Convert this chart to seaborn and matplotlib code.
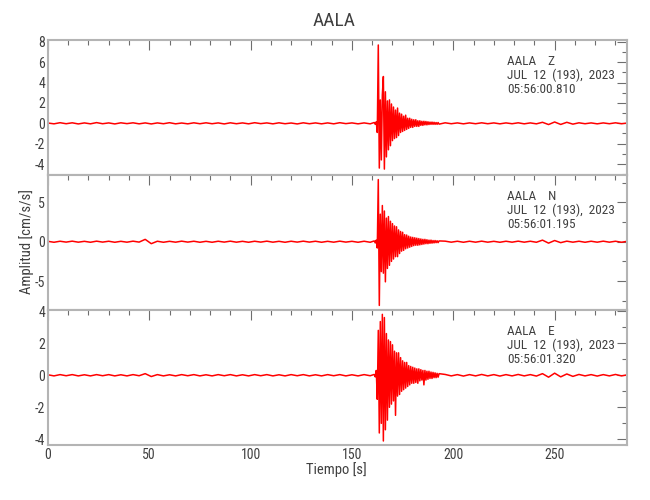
import numpy as np
import pandas as pd
import matplotlib
matplotlib.use('Agg')
import matplotlib.pyplot as plt
from matplotlib.ticker import MultipleLocator
from matplotlib import font_manager
import seaborn as sns

# texts
STATION = 'AALA'
COMPONENTS = ['Z', 'N', 'E']
DATE_LABEL = 'JUL  12  (193),  2023'
START_TIMES = ['05:56:00.810', '05:56:01.195', '05:56:01.320']

# sampling of the read-off values (s)
PRE_STEP = 3.0
EVT_START = 161.0
EVT_STEP = 0.5
POST_START = 196.0
POST_STEP = 3.0

# Z component (cm/s/s)
z_pre = [0.03, -0.05, 0.06, -0.04, 0.05, -0.06, 0.04, -0.05, 0.07, -0.04,
         0.04, -0.06, 0.05, -0.03, 0.05, -0.05, 0.04, -0.06, 0.04, -0.04,
         0.06, -0.05, 0.03, -0.05, 0.05, -0.04, 0.05, -0.04, 0.04, -0.06,
         0.05, -0.04, 0.04, -0.05, 0.06, -0.03, 0.04, -0.05, 0.05, -0.04,
         0.03, -0.06, 0.05, -0.04, 0.04, -0.05, 0.04, -0.05, 0.06, -0.03,
         0.04, -0.05, 0.04, -0.05]
z_evt = [0.08, -0.1, 0.15, -0.9, 7.7, -4.4, 2.3, -3.6, 2.8, 4.6,
         -4.5, 3.1, -3.3, 2.2, -2.6, 2.3, -2.2, 1.9, -1.7, 1.6,
         -1.5, 1.3, -1.4, 1.5, -1.2, 1.0, -0.9, 0.9, -0.8, 0.7,
         -0.7, 0.8, -0.6, 0.5, -0.5, 0.5, -0.4, 0.4, -0.4, 0.35,
         -0.3, 0.35, -0.3, 0.25, -0.3, 0.25, -0.2, 0.2, -0.2, 0.2,
         -0.15, 0.18, -0.15, 0.15, -0.12, 0.12, -0.1, 0.12, -0.1, 0.1,
         -0.1, 0.08, -0.1, 0.08, -0.08]
z_post = [0.05, -0.04, 0.04, -0.05, 0.04, -0.04, 0.05, -0.04, 0.04, -0.05,
          0.04, -0.04, 0.05, -0.05, 0.04, -0.05, 0.1, -0.12, 0.13, -0.11,
          0.1, -0.08, 0.05, -0.04, 0.04, -0.05, 0.04, -0.04, 0.05, -0.04,
          0.03]

# N component
n_pre = [0.05, -0.07, 0.06, -0.05, 0.07, -0.06, 0.05, -0.07, 0.07, -0.05,
         0.06, -0.07, 0.05, -0.06, 0.07, -0.05, 0.3, -0.25, 0.06, -0.07,
         0.05, -0.06, 0.07, -0.05, 0.06, -0.07, 0.05, -0.07, 0.06, -0.05,
         0.07, -0.06, 0.05, -0.07, 0.06, -0.05, 0.07, -0.06, 0.05, -0.07,
         0.06, -0.05, 0.07, -0.05, 0.06, -0.07, 0.05, -0.06, 0.07, -0.05,
         0.05, -0.07, 0.06, -0.07]
n_evt = [0.1, -0.15, 0.2, -0.8, 7.9, -8.1, 3.5, -3.8, 4.6, -4.0,
         3.9, -5.1, 3.0, -3.4, 3.2, -3.0, 2.6, -2.5, 2.3, -2.2,
         2.0, -1.9, 1.9, -1.9, 1.5, -1.5, 1.3, -1.2, 1.2, -1.1,
         0.9, -0.9, 0.85, -0.8, 0.7, -0.7, 0.6, -0.6, 0.55, -0.5,
         0.5, -0.45, 0.45, -0.45, 0.4, -0.4, 0.35, -0.35, 0.3, -0.3,
         0.3, -0.25, 0.25, -0.25, 0.2, -0.2, 0.2, -0.18, 0.15, -0.15,
         0.15, -0.12, 0.12, -0.12, 0.1]
n_post = [0.07, -0.06, 0.06, -0.07, 0.06, -0.06, 0.07, -0.06, 0.05, -0.07,
          0.06, -0.06, 0.07, -0.06, 0.06, -0.07, 0.2, -0.18, 0.15, -0.12,
          0.07, -0.06, 0.06, -0.07, 0.06, -0.06, 0.07, -0.06, 0.06, -0.07,
          0.06]

# E component
e_pre = [0.03, -0.04, 0.04, -0.03, 0.04, -0.04, 0.03, -0.04, 0.04, -0.03,
         0.04, -0.04, 0.03, -0.04, 0.04, -0.03, 0.1, -0.08, 0.04, -0.04,
         0.03, -0.04, 0.04, -0.03, 0.04, -0.04, 0.03, -0.04, 0.04, -0.03,
         0.04, -0.04, 0.03, -0.04, 0.04, -0.03, 0.04, -0.04, 0.03, -0.04,
         0.04, -0.03, 0.04, -0.04, 0.03, -0.04, 0.04, -0.03, 0.04, -0.04,
         0.03, -0.04, 0.04, -0.03]
e_evt = [0.05, -0.1, 0.3, -1.5, 2.8, -3.6, 3.35, -3.0, 3.8, -4.1,
         3.6, -3.4, 2.6, -2.8, 2.2, -2.0, 2.1, -1.8, 1.9, -1.6,
         1.5, -2.5, 1.4, -1.3, 1.4, -1.2, 1.1, -1.0, 0.9, -0.9,
         0.8, -0.8, 0.8, -0.7, 0.6, -0.6, 0.55, -0.5, 0.5, -0.5,
         0.45, -0.45, 0.4, -0.5, 0.4, -0.35, 0.35, -0.3, 0.3, -0.6,
         0.3, -0.3, 0.25, -0.25, 0.25, -0.2, 0.2, -0.2, 0.18, -0.15,
         0.15, -0.15, 0.12, -0.12, 0.1]
e_post = [0.05, -0.04, 0.04, -0.05, 0.04, -0.04, 0.05, -0.04, 0.04, -0.05,
          0.04, -0.04, 0.05, -0.04, 0.04, -0.05, 0.1, -0.12, 0.13, -0.1,
          0.08, -0.07, 0.05, -0.04, 0.04, -0.05, 0.04, -0.04, 0.05, -0.04,
          0.03]

Y_LIMITS = [(-5.08, 8.19), (-8.68, 8.48), (-4.35, 4.07)]
Y_MAJOR = [2, 5, 2]
Y_MINOR = [1, 2.5, 1]
X_MAX = 285.7


def build_trace(pre, evt, post):
    t = np.concatenate([PRE_STEP * np.arange(len(pre)),
                        EVT_START + EVT_STEP * np.arange(len(evt)),
                        POST_START + POST_STEP * np.arange(len(post))])
    return pd.DataFrame({'Tiempo': t, 'Amplitud': np.concatenate([pre, evt, post])})


traces = [build_trace(z_pre, z_evt, z_post),
          build_trace(n_pre, n_evt, n_post),
          build_trace(e_pre, e_evt, e_post)]

sns.set_style('white')
names = {f.name for f in font_manager.fontManager.ttflist}
narrow = [n for n in ['Liberation Sans Narrow', 'Roboto Condensed', 'Open Sans Condensed']
          if n in names]
plt.rcParams['font.family'] = narrow + ['DejaVu Sans']
plt.rcParams['font.stretch'] = 'condensed'
plt.rcParams['axes.unicode_minus'] = False

fig = plt.figure(figsize=(6.5, 5), dpi=100)
W, H = 650.0, 500.0
left, right = 47.9, 627.0
top0, ph = 40.0, 135.0

frame_col = '#b4b4b4'
text_col = '#404040'

for i, df in enumerate(traces):
    top = top0 + i * ph
    ax = fig.add_axes([left / W, 1 - (top + ph) / H, (right - left) / W, ph / H])
    sns.lineplot(data=df, x='Tiempo', y='Amplitud', ax=ax, color='#ff0000',
                 linewidth=1.1, estimator=None, sort=False)
    ax.set_xlim(0, X_MAX)
    ax.set_ylim(*Y_LIMITS[i])
    ax.set_xlabel('')
    ax.set_ylabel('')
    ax.xaxis.set_major_locator(MultipleLocator(50))
    ax.xaxis.set_minor_locator(MultipleLocator(10))
    ax.yaxis.set_major_locator(MultipleLocator(Y_MAJOR[i]))
    ax.yaxis.set_minor_locator(MultipleLocator(Y_MINOR[i]))
    ax.tick_params(which='both', direction='in', top=True, right=True,
                   color='#6e6e6e', labelcolor=text_col, labelsize=10, width=0.8)
    ax.tick_params(which='major', length=7, pad=2)
    ax.tick_params(which='minor', length=3.5)
    if i < 2:
        ax.tick_params(axis='x', labelbottom=False)
    for s in ax.spines.values():
        s.set_color(frame_col)
        s.set_linewidth(1.5)
    # station / date / start time block, one text per line
    lines = [f'{STATION}    {COMPONENTS[i]}', DATE_LABEL, START_TIMES[i]]
    for line, off in zip(lines, [21.5, 35.5, 49.5]):
        ax.text(0.793, 1 - off / ph, line, transform=ax.transAxes,
                ha='left', va='center', fontsize=9.5, color=text_col)

fig.text(0.514, 1 - 21 / H, STATION, ha='center', va='center', fontsize=14, color=text_col)
fig.text(27 / W, 1 - 241 / H, 'Amplitud [cm/s/s]', ha='center', va='center',
         rotation=90, fontsize=10.5, color=text_col)
fig.text(0.518, 1 - 470 / H, 'Tiempo [s]', ha='center', va='center',
         fontsize=10.5, color=text_col)

fig.savefig('out.png', dpi=100)
